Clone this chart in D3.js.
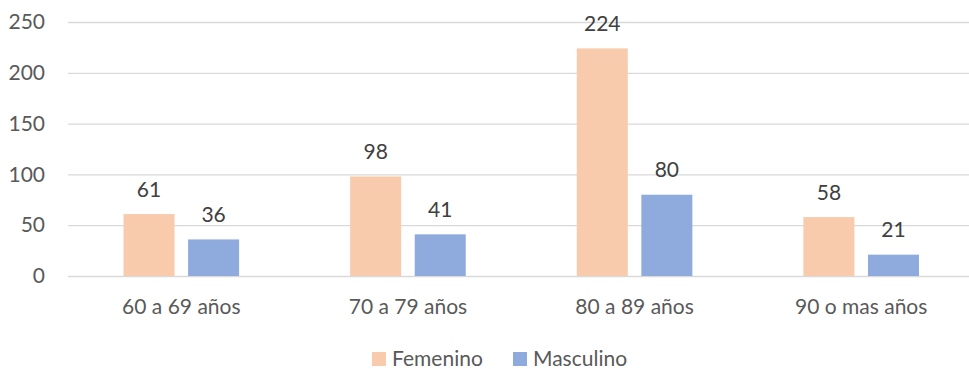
<!DOCTYPE html>
<html><head><meta charset="utf-8">
<script src="https://cdn.jsdelivr.net/npm/d3@7"></script>
<style>html,body{margin:0;padding:0;background:#fff;}svg{display:block;}</style>
</head><body>
<svg id="c" width="969" height="369"></svg>
<script>
const categories = ["60 a 69 años", "70 a 79 años", "80 a 89 años", "90 o mas años"];
const seriesNames = ["Femenino", "Masculino"];
const femenino = [61, 98, 224, 58];
const masculino = [36, 41, 80, 21];
const yTicks = [0, 50, 100, 150, 200, 250];
const colors = ["#F8CBAD", "#8FAADC"];

const svg = d3.select("#c");
const font = "Lato, 'Liberation Sans', sans-serif";
const fs = 21;
const textColor = "#595959";

const y = d3.scaleLinear().domain([0, 250]).range([276, 22]);
const x0 = d3.scaleBand().domain(categories).range([68, 974.5]).padding(0);
const groupW = 115.6;
const x1 = d3.scaleBand().domain(seriesNames).range([0, groupW]).paddingInner(0.21);
const off = (x0.bandwidth() - groupW) / 2;

// gridlines
const yAxis = d3.axisLeft(y).tickValues(yTicks).tickSize(-(974.5 - 68)).tickPadding(23);
const gy = svg.append("g").attr("transform", "translate(68,0)").call(yAxis);
gy.select(".domain").remove();
gy.selectAll(".tick line").attr("stroke", "#D9D9D9").attr("stroke-width", 1.3);
gy.selectAll(".tick text").attr("fill", textColor).style("font-family", font).style("font-size", fs + "px");

const data = categories.map((c, i) => ({ c, vals: [femenino[i], masculino[i]] }));
const g = svg.append("g");
const groups = g.selectAll("g.grp").data(data).join("g").attr("class", "grp")
  .attr("transform", d => `translate(${x0(d.c) + off},0)`);
groups.selectAll("rect").data(d => d.vals.map((v, k) => ({ v, s: seriesNames[k], k })))
  .join("rect")
  .attr("x", d => x1(d.s)).attr("width", x1.bandwidth())
  .attr("y", d => y(d.v)).attr("height", d => y(0) - y(d.v))
  .attr("fill", d => colors[d.k]);
groups.selectAll("text").data(d => d.vals.map((v, k) => ({ v, s: seriesNames[k], k })))
  .join("text")
  .attr("x", d => x1(d.s) + x1.bandwidth() / 2)
  .attr("y", d => y(d.v) - 17.5)
  .attr("text-anchor", "middle").attr("fill", "#404040")
  .style("font-family", font).style("font-size", fs + "px")
  .text(d => d.v);

// x axis labels
const xAxis = d3.axisBottom(x0).tickSize(0).tickPadding(0);
const gx = svg.append("g").attr("transform", "translate(0,276)").call(xAxis);
gx.select(".domain").remove();
gx.selectAll(".tick text").attr("dy", null).attr("y", 38).attr("fill", textColor)
  .style("font-family", font).style("font-size", fs + "px");

// legend
const legendX = [372, 513];
const leg = svg.append("g");
seriesNames.forEach((s, i) => {
  leg.append("rect").attr("x", legendX[i]).attr("y", 352).attr("width", 14).attr("height", 14).attr("fill", colors[i]);
  leg.append("text").attr("x", legendX[i] + 20).attr("y", 366).attr("fill", textColor)
    .style("font-family", font).style("font-size", fs + "px").text(s);
});
</script>
</body></html>
